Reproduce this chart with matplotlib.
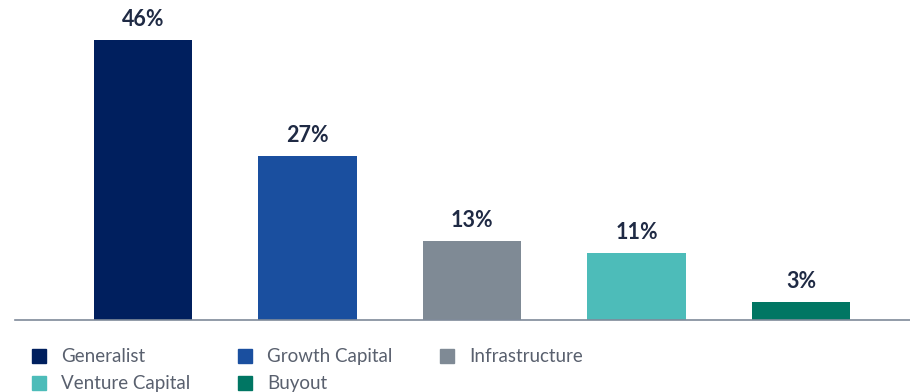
import matplotlib.pyplot as plt
from matplotlib.patches import Rectangle

categories = ['Generalist', 'Growth Capital', 'Infrastructure', 'Venture Capital', 'Buyout']
values = [46, 27, 13, 11, 3]
colors = ['#001f5e', '#1a4f9f', '#7f8a95', '#4dbcb9', '#007663']

W, H = 910, 392
fig = plt.figure(figsize=(W / 100, H / 100), dpi=100)
ax = fig.add_axes([15 / W, 1 - 320 / H, 895 / W, 320 / H])

x = range(len(values))
ax.bar(x, values, width=0.6, color=colors)
for xi, v in zip(x, values):
    ax.text(xi, v + 1.6, f'{v}%', ha='center', va='bottom', fontsize=15.5,
            fontweight='bold', family='Lato', color='#1f2a44')

ax.set_xlim(-0.778, 4.663)
ax.set_ylim(0, 52.6)
for s in ['top', 'right', 'left']:
    ax.spines[s].set_visible(False)
ax.spines['bottom'].set_color('#7f8a9a')
ax.spines['bottom'].set_linewidth(1.2)
ax.set_xticks([])
ax.set_yticks([])

# legend, 3 columns
col_x = [32, 238, 440]
row_y = [356, 383]
for i, (name, c) in enumerate(zip(categories, colors)):
    px = col_x[i % 3]
    py = row_y[i // 3]
    fig.add_artist(Rectangle((px / W, 1 - (py + 7) / H), 14 / W, 14 / H,
                             transform=fig.transFigure, color=c))
    fig.text((px + 29) / W, 1 - (py + 0.5) / H, name, va='center', ha='left',
             fontsize=13.5, family='Lato', color='#59606e')

fig.savefig('out.png', dpi=100)
